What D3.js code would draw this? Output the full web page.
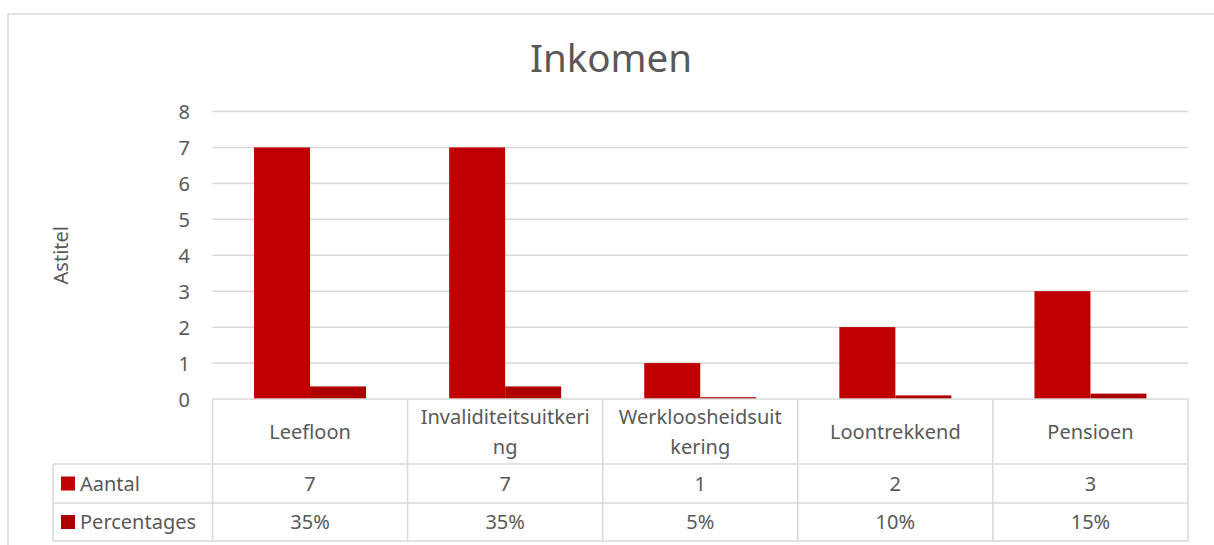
<!DOCTYPE html>
<html><head><meta charset="utf-8">
<script src="https://cdn.jsdelivr.net/npm/d3@7"></script>
<style>html,body{margin:0;padding:0;background:#fff;overflow:hidden}</style>
</head><body>
<svg id="c" width="1214" height="545"></svg>
<script>
const categories = ["Leefloon","Invaliditeitsuitkering","Werkloosheidsuitkering","Loontrekkend","Pensioen"];
const categoryLines = [["Leefloon"],["Invaliditeitsuitkeri","ng"],["Werkloosheidsuit","kering"],["Loontrekkend"],["Pensioen"]];
const aantal = [7,7,1,2,3];
const percentages = [0.35,0.35,0.05,0.10,0.15];
const percentageLabels = ["35%","35%","5%","10%","15%"];
const seriesNames = ["Aantal","Percentages"];
const yTicks = [0,1,2,3,4,5,6,7,8];

const colors = ["#C00000","#AD0000"];
const grid = "#d9d9d9", txt = "#595959";
const font = "'Noto Sans', 'Open Sans', sans-serif";
const fs = "20px";
const svg = d3.select("#c");

// chart border
svg.append("rect").attr("x",8).attr("y",14).attr("width",1300).attr("height",600)
  .attr("fill","none").attr("stroke",grid).attr("stroke-width",1.5);

const L=212.5, R=1188, T=111.5, B=399;
const x = d3.scaleBand().domain(categories).range([L,R]).paddingInner(0).paddingOuter(0);
const y = d3.scaleLinear().domain([0,8]).range([B,T]);

// gridlines
svg.append("g").selectAll("line").data(yTicks.filter(d=>d>0)).join("line")
  .attr("x1",L).attr("x2",R).attr("y1",d=>y(d)).attr("y2",d=>y(d))
  .attr("stroke",grid).attr("stroke-width",1.5);

// y axis labels
const yAxis = d3.axisLeft(y).tickValues(yTicks).tickSize(0).tickPadding(0);
const ga = svg.append("g").attr("transform",`translate(${190},0)`).call(yAxis);
ga.select(".domain").remove();
ga.selectAll("text").attr("fill",txt).style("font-family",font).style("font-size",fs).attr("dy","0.35em");

// bars
const bw = 56;
const sub = d3.scaleBand().domain(seriesNames).range([0,bw*2]);
const off = (x.bandwidth()-bw*2)/2;
const series = [aantal, percentages];
series.forEach((vals,si)=>{
  svg.append("g").selectAll("rect").data(vals).join("rect")
    .attr("x",(d,i)=>x(categories[i])+off+sub(seriesNames[si]))
    .attr("width",sub.bandwidth())
    .attr("y",d=>y(d)).attr("height",d=>B-y(d))
    .attr("fill",colors[si]);
});

// data table
const rowTop=[399,464,503,541];
const tableLeft=53;
const lines = svg.append("g").attr("stroke",grid).attr("stroke-width",1.5);
lines.append("line").attr("x1",L).attr("x2",R).attr("y1",rowTop[0]).attr("y2",rowTop[0]);
[1,2,3].forEach(k=>lines.append("line").attr("x1",tableLeft).attr("x2",R).attr("y1",rowTop[k]).attr("y2",rowTop[k]));
const edges = categories.map(c=>x(c)).concat([R]);
edges.forEach(e=>lines.append("line").attr("x1",e).attr("x2",e).attr("y1",rowTop[0]).attr("y2",rowTop[3]));
lines.append("line").attr("x1",tableLeft).attr("x2",tableLeft).attr("y1",rowTop[1]).attr("y2",rowTop[3]);

// category labels
categoryLines.forEach((ls,i)=>{
  const cx = x(categories[i])+x.bandwidth()/2;
  const cy = (rowTop[0]+rowTop[1])/2;
  const lh = 30;
  ls.forEach((t,j)=>{
    svg.append("text").attr("x",cx).attr("y",cy+(j-(ls.length-1)/2)*lh).attr("dy","0.35em")
      .attr("text-anchor","middle").attr("fill",txt).style("font-family",font).style("font-size",fs).text(t);
  });
});

// rows
const rowVals = [aantal.map(String), percentageLabels];
rowVals.forEach((vals,r)=>{
  const cy=(rowTop[r+1]+rowTop[r+2])/2;
  svg.append("rect").attr("x",61).attr("y",cy-7).attr("width",14).attr("height",14).attr("fill",colors[r]);
  svg.append("text").attr("x",80).attr("y",cy).attr("dy","0.35em").attr("fill",txt)
    .style("font-family",font).style("font-size",fs).text(seriesNames[r]);
  vals.forEach((v,i)=>{
    svg.append("text").attr("x",x(categories[i])+x.bandwidth()/2).attr("y",cy).attr("dy","0.35em")
      .attr("text-anchor","middle").attr("fill",txt).style("font-family",font).style("font-size",fs).text(v);
  });
});

// title
svg.append("text").attr("x",611).attr("y",72).attr("text-anchor","middle").attr("fill",txt)
  .style("font-family",font).style("font-size","38.5px").text("Inkomen");

// axis title
svg.append("text").attr("transform",`translate(68,${(T+B)/2}) rotate(-90)`).attr("text-anchor","middle")
  .attr("fill",txt).style("font-family",font).style("font-size",fs).text("Astitel");
</script>
</body></html>
